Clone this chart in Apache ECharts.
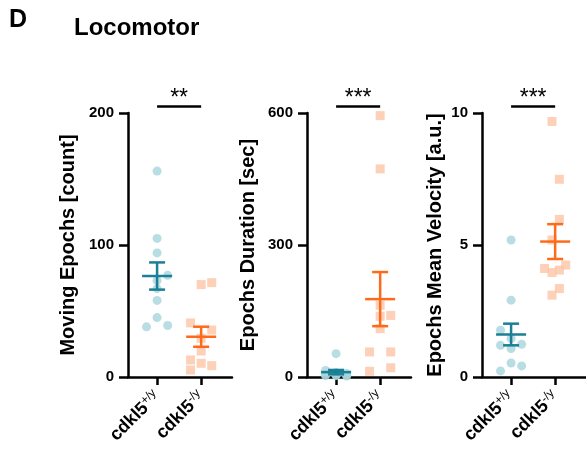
<!DOCTYPE html>
<html>
<head>
<meta charset="utf-8">
<script src="https://cdn.jsdelivr.net/npm/echarts@6/dist/echarts.min.js"></script>
<style>
  html, body { margin: 0; padding: 0; background: #fff; }
  #chart { width: 586px; height: 453px; }
</style>
</head>
<body>
<div id="chart"></div>
<script>
// groups and panels
const groups = ['+/y', '-/y'];
const panelNames = ['Moving Epochs [count]', 'Epochs Duration [sec]', 'Epochs Mean Velocity [a.u.]'];
const yTicks = [[0, 100, 200], [0, 300, 600], [0, 5, 10]];
const stars = ['**', '***', '***'];

// individual animals (value, lane in the swarm)
const wtMoving = [156, 105, 94, 77, 73, 67, 58, 45, 38, 39];
const wtMovingLane = [0, 0, 0, 1, 0, 0, 0, 0, -1, 1];
const koMoving = [70, 71.5, 41, 35.6, 29.3, 19.7, 12.9, 10.4, 8.6, 5.3];
const koMovingLane = [0, 1, -1, 1, 0, 0, -1, 0, 1, -1];

const wtDuration = [53, 15, 10, 8, 6, 5, 4, 3, 3, 2];
const wtDurationLane = [0, -1, 0, 1, -1, 0, 1, -1, 0, 1];
const koDuration = [594, 473, 163, 138, 140, 110, 57, 57, 21, 13];
const koDurationLane = [0, 0, 0, 0, 1, 0, -1, 1, 1, -1];

const wtVelocity = [5.19, 2.91, 1.77, 1.46, 1.2, 1.24, 1.08, 0.53, 0.42, 0.23];
const wtVelocityLane = [0, 0, -1, 0, -1, 1, 0, 0, 1, -1];
const koVelocity = [9.68, 7.49, 5.97, 5.19, 4.11, 4.24, 4.05, 3.96, 3.35, 3.10];
const koVelocityLane = [-0.3, 0.4, 0.4, -0.3, -1, 1, 0.4, -0.3, 0.4, -0.3];

// mean and SEM as drawn
const wtMean = [76.5, 11, 1.61];
const wtSem = [10.3, 5, 0.41];
const koMean = [30.5, 177, 5.13];
const koSem = [7.6, 61.5, 0.66];

const wtData = [wtMoving, wtDuration, wtVelocity];
const wtLanes = [wtMovingLane, wtDurationLane, wtVelocityLane];
const koData = [koMoving, koDuration, koVelocity];
const koLanes = [koMovingLane, koDurationLane, koVelocityLane];

const FONT = 'Liberation Sans, Arial, Helvetica, sans-serif';
const wtColor = '#1b7f95', wtFill = '#a6d4dc';
const koColor = '#ff6a1a', koFill = '#fdc4a6';
const laneStep = 0.24;
const lefts = [128, 307, 482];
const nameGaps = [50, 49, 37];

function points(vals, lanes, x) {
  return vals.map((v, i) => [x + lanes[i] * laneStep, v]);
}

function errRenderer(color) {
  return function (params, api) {
    const x = api.value(0), m = api.value(1), s = api.value(2);
    const c = api.coord([x, m]);
    const t = api.coord([x, m + s]);
    const b = api.coord([x, m - s]);
    const st = { stroke: color, lineWidth: 2.5 };
    return {
      type: 'group',
      children: [
        { type: 'line', shape: { x1: c[0] - 15, y1: c[1], x2: c[0] + 15, y2: c[1] }, style: st },
        { type: 'line', shape: { x1: c[0], y1: t[1], x2: c[0], y2: b[1] }, style: st },
        { type: 'line', shape: { x1: c[0] - 8, y1: t[1], x2: c[0] + 8, y2: t[1] }, style: st },
        { type: 'line', shape: { x1: c[0] - 8, y1: b[1], x2: c[0] + 8, y2: b[1] }, style: st }
      ]
    };
  };
}

function sigRenderer(p) {
  return function (params, api) {
    const a = api.coord([api.value(0), yTicks[p][2]]);
    const b = api.coord([api.value(1), yTicks[p][2]]);
    const y = a[1] - 6.5;
    return {
      type: 'group',
      children: [
        { type: 'line', shape: { x1: a[0], y1: y, x2: b[0], y2: y }, style: { stroke: '#000', lineWidth: 2.5 } },
        { type: 'text', x: (a[0] + b[0]) / 2, y: y - 8,
          style: { text: stars[p], fill: '#000', font: '23px ' + FONT,
                   align: 'center', verticalAlign: 'middle' } }
      ]
    };
  };
}

const grid = [], xAxis = [], yAxis = [], series = [];
for (let p = 0; p < 3; p++) {
  grid.push({ left: lefts[p], top: 113, width: 104, height: 264 });
  xAxis.push({
    gridIndex: p, type: 'value', min: 0.34, max: 2.7,
    axisLine: { show: true, lineStyle: { color: '#000', width: 2.5 } },
    axisTick: { show: true, customValues: [1, 2], length: 8, lineStyle: { color: '#000', width: 2.5 } },
    axisLabel: {
      customValues: [1, 2], rotate: 45, margin: 17,
      formatter: v => '{b|cdkl5}{s|' + groups[Math.round(v) - 1] + '}',
      rich: {
        b: { fontFamily: FONT, fontWeight: 'bold', fontSize: 18, color: '#000', lineHeight: 20 },
        s: { fontFamily: FONT, fontSize: 12, color: '#000', verticalAlign: 'top', lineHeight: 20 }
      }
    },
    splitLine: { show: false }
  });
  yAxis.push({
    gridIndex: p, type: 'value', min: 0, max: yTicks[p][2], interval: yTicks[p][1],
    name: panelNames[p], nameLocation: 'middle', nameGap: nameGaps[p],
    nameTextStyle: { fontFamily: FONT, fontWeight: 'bold', fontSize: 20, color: '#000' },
    axisLine: { show: true, lineStyle: { color: '#000', width: 2.5 } },
    axisTick: { show: true, length: 9, lineStyle: { color: '#000', width: 2.5 } },
    axisLabel: { fontFamily: FONT, fontWeight: 'bold', fontSize: 15, color: '#000', margin: 14 },
    splitLine: { show: false }
  });
  series.push({
    type: 'scatter', xAxisIndex: p, yAxisIndex: p, symbol: 'circle', symbolSize: 9,
    itemStyle: { color: wtFill }, data: points(wtData[p], wtLanes[p], 1), z: 2
  });
  series.push({
    type: 'scatter', xAxisIndex: p, yAxisIndex: p, symbol: 'rect', symbolSize: 9,
    itemStyle: { color: koFill }, data: points(koData[p], koLanes[p], 2), z: 2
  });
  series.push({
    type: 'custom', xAxisIndex: p, yAxisIndex: p, renderItem: errRenderer(wtColor),
    data: [[1, wtMean[p], wtSem[p]]], z: 5
  });
  series.push({
    type: 'custom', xAxisIndex: p, yAxisIndex: p, renderItem: errRenderer(koColor),
    data: [[2, koMean[p], koSem[p]]], z: 5
  });
  series.push({
    type: 'custom', xAxisIndex: p, yAxisIndex: p, clip: false,
    renderItem: sigRenderer(p), data: [[1, 2]], encode: { x: [0, 1] }, z: 5
  });
}

const chart = echarts.init(document.getElementById('chart'), null, { renderer: 'canvas' });
chart.setOption({
  animation: false,
  backgroundColor: '#fff',
  title: [
    { text: 'D', left: 9, top: 8, padding: 0, textStyle: { fontFamily: FONT, fontWeight: 'bold', fontSize: 25, color: '#000' } },
    { text: 'Locomotor', left: 74, top: 16, padding: 0, textStyle: { fontFamily: FONT, fontWeight: 'bold', fontSize: 24, color: '#000' } }
  ],
  grid, xAxis, yAxis, series
});
</script>
</body>
</html>
